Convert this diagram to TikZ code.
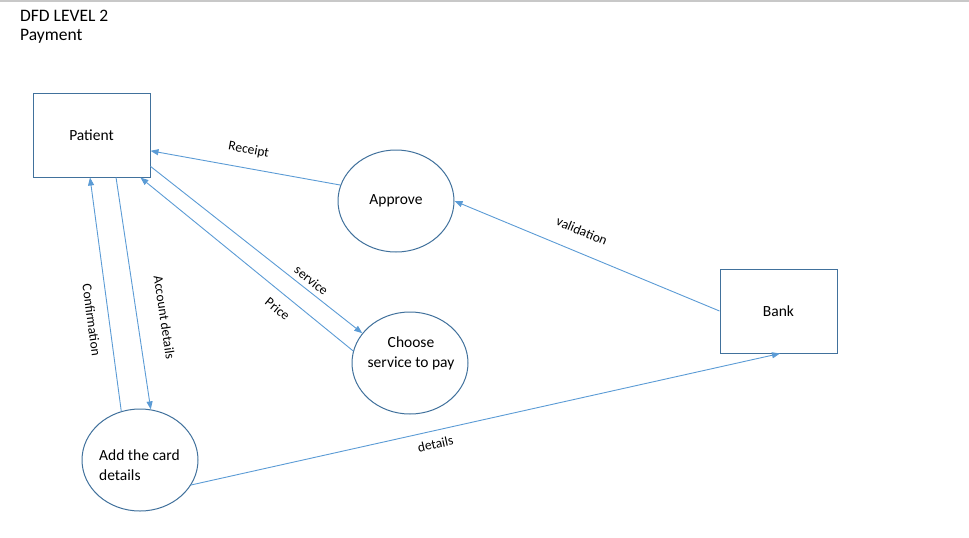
\documentclass[tikz,border=0pt]{standalone}
\usepackage{fontspec}
\setmainfont{Carlito}
\usepackage{tikz}
\usetikzlibrary{positioning, arrows.meta, shapes.geometric}
\definecolor{boxblue}{RGB}{65,113,156}
\definecolor{flowblue}{RGB}{91,155,213}
\definecolor{rulegray}{RGB}{200,200,200}

\begin{document}
\begin{tikzpicture}[x=1pt, y=1pt,
        entity/.style={draw=boxblue, line width=1pt, minimum width=117pt, minimum height=84pt,
          font=\fontsize{15.5}{20}\selectfont},
        process/.style={ellipse, draw=boxblue, line width=1pt, minimum width=116pt, minimum height=102pt,
          inner sep=0pt},
        ptext/.style={inner sep=0pt, font=\fontsize{15.5}{20}\selectfont},
        flow/.style={draw=flowblue, line width=0.9pt, -{Triangle[length=8pt,width=6pt]}},
        lbl/.style={font=\fontsize{13.5}{15}\selectfont, sloped, inner sep=0pt}]
      \useasboundingbox (0,0) rectangle (969,-538);
      \draw[rulegray, line width=1.2pt] (0,-1) -- (969,-1);
      % Title
      \node[anchor=north west, align=left, inner sep=0pt, font=\fontsize{17.5}{19}\selectfont]
        (title) at (20,-10) {DFD LEVEL 2\\Payment};
      % External entities
      \node[entity] (pat) at (91.5,-135) {Patient};
      \node[entity] (bank) at (778.5,-311) {Bank};
      % Processes
      \node[process] (apv) at (396,-201) {};
      \node[ptext] (apvT) at (apv.center) {Approve};
      \node[process] (cho) at (410,-363) {};
      \node[ptext, align=center] (choT) at (411,-353) {Choose\\service to pay};
      \node[process] (add) at (140,-460) {};
      \node[ptext, align=left, anchor=west] (addT) at (99,-465) {Add the card\\details};
      % Data flows
      \draw[flow] (apv.164) -- node[lbl, above=12pt, pos=0.5]{Receipt} (pat.-15);
      \draw[flow] (pat.-28) -- node[lbl, above=5pt, pos=0.73]{service} (cho.148);
      \draw[flow] (cho.168) -- node[lbl, below=10pt, pos=0.31]{Price} (pat.-41);
      \draw[flow] (pat.-60) -- node[lbl, above=22pt, pos=0.62]{Account details} (add.78);
      \draw[flow] (add.111) -- node[lbl, below=12pt, pos=0.40]{Confirmation} (pat.-92);
      \draw[flow] (bank.west) -- node[lbl, above=16pt, pos=0.55]{validation} (apv.east);
      \draw[flow] (add.-26) -- node[lbl, below=8pt, pos=0.41]{details} (bank.-88);
    \end{tikzpicture}
\end{document}
